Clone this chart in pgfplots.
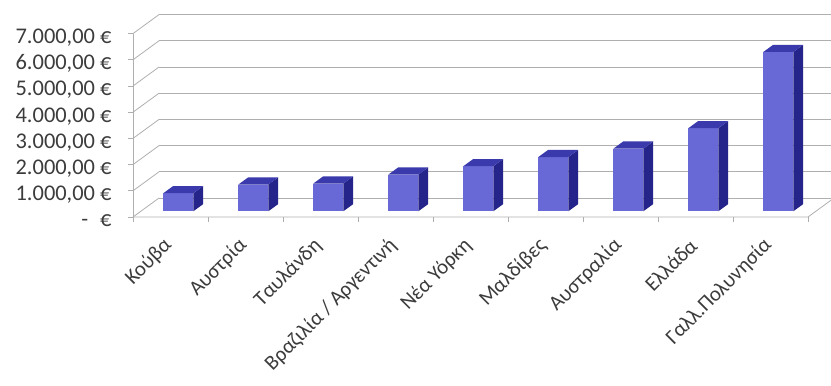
\documentclass[border=0pt]{standalone}
\usepackage{fontspec}
\setmainfont{Carlito}
\usepackage{pgfplots}
\usepackage{pgfplotstable}
\pgfplotsset{compat=1.18}
\definecolor{barfront}{RGB}{104,104,214}
\definecolor{barside}{RGB}{36,36,138}
\definecolor{bartop}{RGB}{58,58,172}
\definecolor{gridc}{RGB}{175,175,175}
\definecolor{txt}{RGB}{60,60,60}

\pgfplotstableread{
idx value
0 690
1 1020
2 1060
3 1400
4 1720
5 2070
6 2390
7 3170
8 6080
}\data

\begin{document}
\begin{tikzpicture}
\useasboundingbox (-133bp,-169bp) rectangle (698bp,217bp);
\begin{axis}[
  scale only axis, width=698bp, height=217bp,
  xmin=0, xmax=9.3067, ymin=0, ymax=8282,
  axis line style={draw=none},
  clip=true,
  tick pos=left, tick align=outside,
  major tick length=0pt, minor tick length=5bp,
  every tick/.style={gridc, line width=0.8bp},
  xtick={0.5,1.5,...,8.5},
  minor xtick={0,1,...,9},
  xticklabels={Κούβα, Αυστρία, Ταυλάνδη, Βραζιλία / Αργεντινή, Νέα Υόρκη, Μαλδίβες, Αυστραλία, Ελλάδα, Γαλλ.Πολυνησία},
  xticklabel style={rotate=45, anchor=east, font=\fontsize{21}{21}\selectfont, text=txt, xshift=-16bp, yshift=-16.5bp},
  ytick={0,1000,...,7000},
  minor ytick={0,1000,...,7000},
  yticklabels={{-\hspace{12bp}€}, {1.000,00 €}, {2.000,00 €}, {3.000,00 €}, {4.000,00 €}, {5.000,00 €}, {6.000,00 €}, {7.000,00 €}},
  yticklabel style={font=\fontsize{22.5}{22.5}\selectfont, text=txt, xshift=-18bp, yshift=-4bp},
]
% walls and gridlines
\pgfplotsinvokeforeach{0,1000,2000,3000,4000,5000,6000,7000}{
  \addplot[gridc, line width=0.8bp] coordinates {(0,#1) (0.347,#1+725)};
}
\pgfplotsinvokeforeach{725,1725,2725,3725,4725,5725,6725,7725}{
  \addplot[gridc, line width=0.8bp] coordinates {(0.347,#1) (9.5,#1)};
}
\addplot[gridc, line width=0.8bp] coordinates {(0,0) (0,7000)};
\addplot[gridc, line width=0.8bp] coordinates {(0,0) (9,0) (9.347,725)};
% bars
\pgfplotsinvokeforeach{0,...,8}{
  \pgfplotstablegetelem{#1}{value}\of\data
  \let\v\pgfplotsretval
  \pgfmathsetmacro\xl{#1+0.5-0.096}
  \pgfmathsetmacro\xr{#1+0.5+0.304}
  \pgfmathsetmacro\xb{#1+0.5+0.436}
  \pgfmathsetmacro\xbl{#1+0.5+0.036}
  \pgfmathsetmacro\yf{\v+217.5}
  \pgfmathsetmacro\yb{\v+493}
  \edef\tmp{%
    \noexpand\addplot[fill=barfront, draw=none] coordinates {(\xl,217.5) (\xr,217.5) (\xr,\yf) (\xl,\yf)} -- cycle;
    \noexpand\addplot[fill=barside, draw=none] coordinates {(\xr,217.5) (\xb,493) (\xb,\yb) (\xr,\yf)} -- cycle;
    \noexpand\addplot[fill=bartop, draw=none] coordinates {(\xl,\yf) (\xr,\yf) (\xb,\yb) (\xbl,\yb)} -- cycle;
  }\tmp
}
\end{axis}
\end{tikzpicture}
\end{document}
